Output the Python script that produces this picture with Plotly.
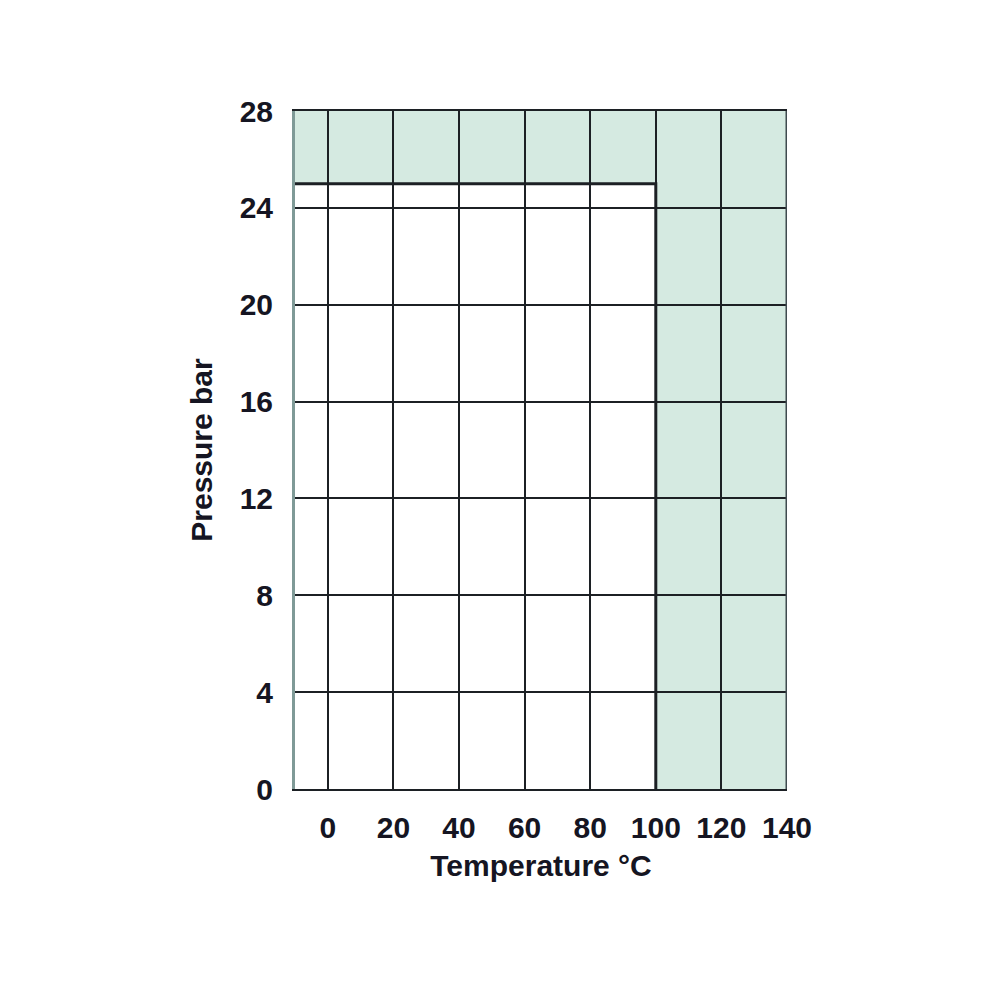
import plotly.graph_objects as go

# Data
x_ticks = [0, 20, 40, 60, 80, 100, 120, 140]
y_ticks = [0, 4, 8, 12, 16, 20, 24, 28]
x_range = [-10, 140]
y_range = [0, 28]
max_temp = 100      # rated maximum temperature (°C)
max_pressure = 25   # rated maximum pressure (bar)
x_title = "Temperature °C"
y_title = "Pressure bar"

GREEN = "#d5eae1"
DARK = "#1c2024"
TXT = "#151522"
FONT = "Liberation Sans, Arial, sans-serif"

fig = go.Figure()

# boundary of the permitted operating window
fig.add_trace(go.Scatter(
    x=[x_range[0], max_temp, max_temp],
    y=[max_pressure, max_pressure, y_range[0]],
    mode="lines", line=dict(color=DARK, width=3),
    hoverinfo="skip", showlegend=False, cliponaxis=False))

# right border of the chart
fig.add_trace(go.Scatter(
    x=[x_range[1], x_range[1]], y=[y_range[0], y_range[1]],
    mode="lines", line=dict(color="#3f4a4f", width=3),
    hoverinfo="skip", showlegend=False, cliponaxis=False))

# white allowed region below gridlines
fig.add_shape(type="rect", xref="x", yref="y",
              x0=x_range[0], x1=max_temp, y0=y_range[0], y1=max_pressure,
              fillcolor="white", line=dict(width=0), layer="below")

fig.update_layout(
    width=1001, height=1001,
    margin=dict(l=287, r=222, t=103, b=220),
    paper_bgcolor="white", plot_bgcolor=GREEN,
    font=dict(family=FONT, color=TXT, size=30),
    showlegend=False,
)
fig.update_xaxes(
    range=x_range, tickvals=x_ticks, ticktext=[str(v) for v in x_ticks],
    showgrid=True, gridcolor=DARK, gridwidth=2,
    showline=True, linecolor=DARK, linewidth=2, mirror=True,
    zeroline=False, ticks="", ticklabelstandoff=11,
    tickfont=dict(family=FONT, size=30, color=TXT, weight="bold"),
    title=dict(text=x_title, standoff=12,
               font=dict(family=FONT, size=30, color=TXT, weight="bold")),
)
fig.update_yaxes(
    range=y_range, tickvals=y_ticks, ticktext=[str(v) for v in y_ticks],
    showgrid=True, gridcolor=DARK, gridwidth=2,
    showline=True, linecolor="#7f9a97", linewidth=3, mirror=False,
    zeroline=False, ticks="", ticklabelstandoff=13,
    tickfont=dict(family=FONT, size=30, color=TXT, weight="bold"),
    title=dict(text=y_title, standoff=19,
               font=dict(family=FONT, size=30, color=TXT, weight="bold")),
)

fig.write_html("out.html")
